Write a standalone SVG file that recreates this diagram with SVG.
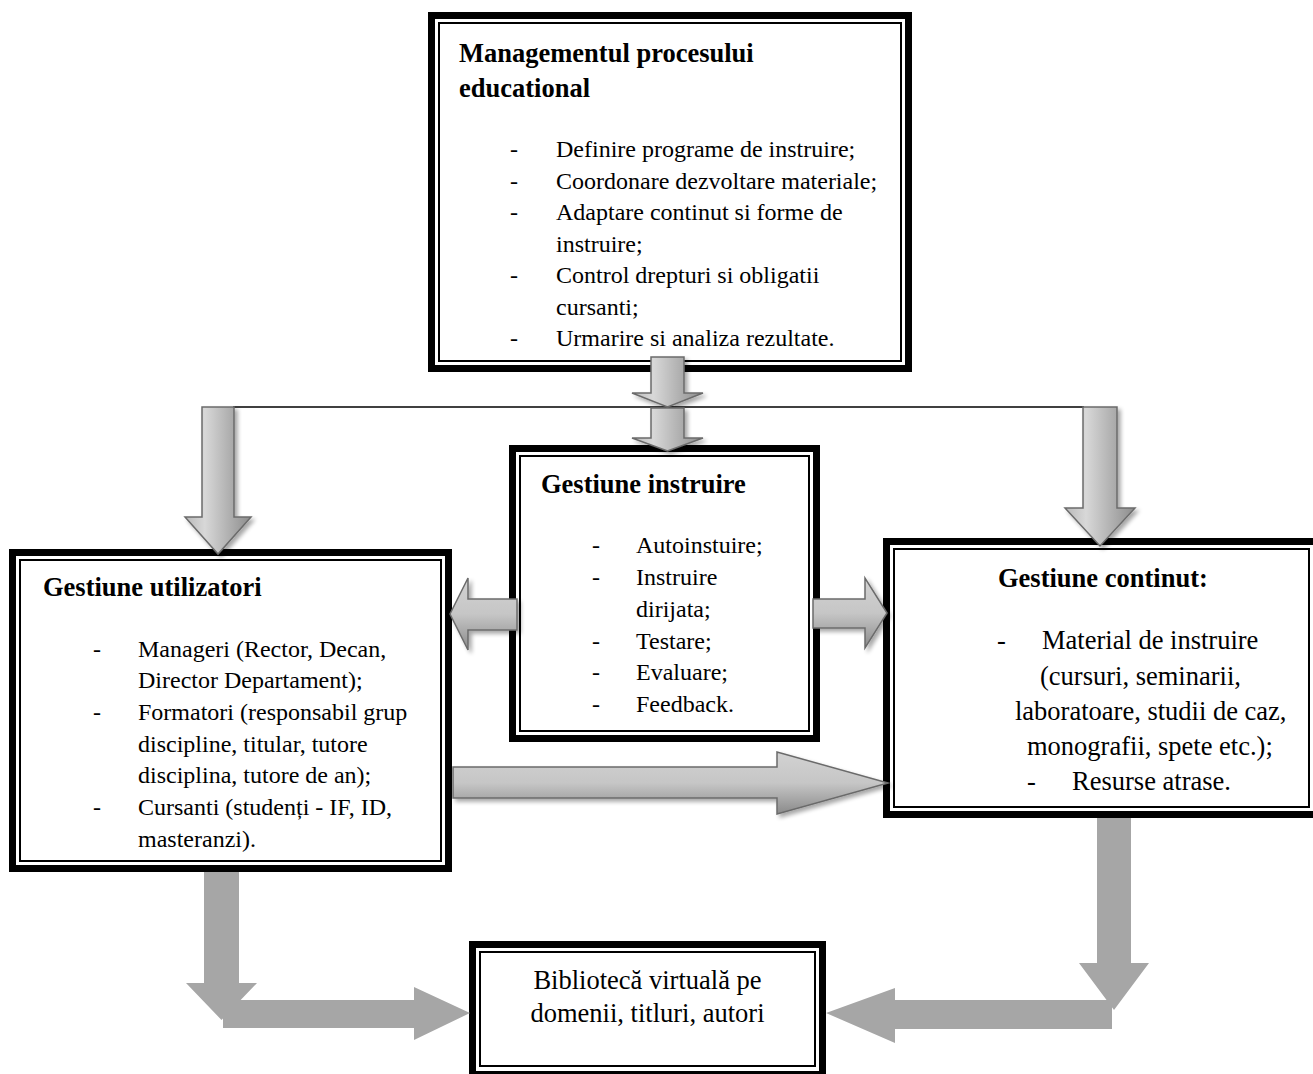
<svg xmlns="http://www.w3.org/2000/svg" width="1313" height="1074" viewBox="0 0 1313 1074">
<style>
.outer{fill:#fff;stroke:#000;stroke-width:7}
.inner{fill:none;stroke:#000;stroke-width:2}
.t{font-family:"Liberation Serif","Times New Roman",serif;font-size:24px;fill:#000}
.tl{font-family:"Liberation Serif","Times New Roman",serif;font-size:26.5px;fill:#000}
.h{font-family:"Liberation Serif","Times New Roman",serif;font-size:26.5px;font-weight:bold;fill:#000}
.a3v{fill:url(#gv);stroke:#6b6b6b;stroke-width:1.5;filter:url(#sh)}
.a3h{fill:url(#gh);stroke:#6b6b6b;stroke-width:1.5;filter:url(#sh)}
.flat{fill:#a6a6a6}
</style>
<defs>
<linearGradient id="gv" x1="0" y1="0" x2="1" y2="0">
<stop offset="0" stop-color="#b8b8b8"/>
<stop offset="0.3" stop-color="#d8d8d8"/>
<stop offset="1" stop-color="#8c8c8c"/>
</linearGradient>
<linearGradient id="gh" x1="0" y1="0" x2="0" y2="1">
<stop offset="0" stop-color="#d2d2d2"/>
<stop offset="0.5" stop-color="#c6c6c6"/>
<stop offset="1" stop-color="#8a8a8a"/>
</linearGradient>
<filter id="sh" x="-20%" y="-20%" width="150%" height="150%">
<feGaussianBlur in="SourceAlpha" stdDeviation="2"/>
<feOffset dx="3" dy="3" result="o"/>
<feComponentTransfer><feFuncA type="linear" slope="0.35"/></feComponentTransfer>
<feMerge><feMergeNode/><feMergeNode in="SourceGraphic"/></feMerge>
</filter>
</defs>

<g id="node-management">
<rect class="outer" x="431.5" y="15.5" width="477" height="353"/>
<rect class="inner" x="439" y="23" width="462" height="338"/>
<text class="h" x="459" y="62">Managementul procesului</text>
<text class="h" x="459" y="97">educational</text>
<text class="t" x="510" y="157">-</text><text class="t" x="556" y="157">Definire programe de instruire;</text>
<text class="t" x="510" y="188.5">-</text><text class="t" x="556" y="188.5">Coordonare dezvoltare materiale;</text>
<text class="t" x="510" y="220">-</text><text class="t" x="556" y="220">Adaptare continut si forme de</text>
<text class="t" x="556" y="251.5">instruire;</text>
<text class="t" x="510" y="283">-</text><text class="t" x="556" y="283">Control drepturi si obligatii</text>
<text class="t" x="556" y="314.5">cursanti;</text>
<text class="t" x="510" y="346">-</text><text class="t" x="556" y="346">Urmarire si analiza rezultate.</text>
</g>

<g id="node-instruire">
<rect class="outer" x="512.5" y="448.5" width="304" height="290"/>
<rect class="inner" x="520" y="456" width="289" height="275"/>
<text class="h" x="541" y="493">Gestiune instruire</text>
<text class="t" x="592" y="553">-</text><text class="t" x="636" y="553">Autoinstuire;</text>
<text class="t" x="592" y="585">-</text><text class="t" x="636" y="585">Instruire</text>
<text class="t" x="636" y="617">dirijata;</text>
<text class="t" x="592" y="648.5">-</text><text class="t" x="636" y="648.5">Testare;</text>
<text class="t" x="592" y="680">-</text><text class="t" x="636" y="680">Evaluare;</text>
<text class="t" x="592" y="712">-</text><text class="t" x="636" y="712">Feedback.</text>
</g>

<g id="node-utilizatori">
<rect class="outer" x="12.5" y="552.5" width="436" height="316"/>
<rect class="inner" x="20" y="560" width="421" height="301"/>
<text class="h" x="43" y="596">Gestiune utilizatori</text>
<text class="t" x="93" y="656.5">-</text><text class="t" x="138" y="656.5">Manageri (Rector, Decan,</text>
<text class="t" x="138" y="688">Director Departament);</text>
<text class="t" x="93" y="720">-</text><text class="t" x="138" y="720">Formatori (responsabil grup</text>
<text class="t" x="138" y="751.5">discipline, titular, tutore</text>
<text class="t" x="138" y="783">disciplina, tutore de an);</text>
<text class="t" x="93" y="815">-</text><text class="t" x="138" y="815">Cursanti (studenți - IF, ID,</text>
<text class="t" x="138" y="846.5">masteranzi).</text>
</g>

<g id="node-continut">
<rect class="outer" x="886.5" y="541.5" width="430" height="273"/>
<rect class="inner" x="894" y="549" width="415" height="258"/>
<text class="h" x="998" y="587">Gestiune continut:</text>
<text class="tl" x="997" y="649">-</text><text class="tl" x="1042" y="649">Material de instruire</text>
<text class="tl" x="1040" y="684.5">(cursuri, seminarii,</text>
<text class="tl" x="1015" y="720">laboratoare, studii de caz,</text>
<text class="tl" x="1027" y="755">monografii, spete etc.);</text>
<text class="tl" x="1027" y="790">-</text><text class="tl" x="1072" y="790">Resurse atrase.</text>
</g>

<g id="node-biblioteca">
<rect class="outer" x="472.5" y="944.5" width="350" height="130"/>
<rect class="inner" x="480" y="952" width="335" height="114"/>
<text class="tl" x="647.5" y="989" text-anchor="middle">Bibliotecă virtuală pe</text>
<text class="tl" x="647.5" y="1022" text-anchor="middle">domenii, titluri, autori</text>
</g>

<g id="connectors">
<line x1="233" y1="407" x2="1084" y2="407" stroke="#000" stroke-width="1.5"/>
<path class="a3v" d="M651,357 H684 V393 H703 L667.5,407 L632,393 H651 Z"/>
<path class="a3v" d="M651,408 H684 V438 H703 L667.5,451 L632,438 H651 Z"/>
<path class="a3v" d="M202,407 H234 V517 H251 L218,554 L185,517 H202 Z"/>
<path class="a3v" d="M1083,407 H1117 V508 H1135 L1100,546 L1065,508 H1083 Z"/>
<path class="a3h" d="M517,599 V630 H468 V650 L450,614 L468,578 V599 Z"/>
<path class="a3h" d="M813,599 H865 V578 L887,613 L865,648 V628 H813 Z"/>
<path class="a3h" d="M453,767 H777 V752 L888,783 L777,814 V798 H453 Z"/>
<path class="flat" d="M204,872 H239 V983 H257 L221.5,1020 L186,983 H204 Z"/>
<path class="flat" d="M223,1000 H414 V987 L470,1013 L414,1040 V1028 H223 Z"/>
<path class="flat" d="M1097,818 H1131 V963 H1149 L1114,1010 L1079,963 H1097 Z"/>
<path class="flat" d="M1112,1000 H895 V988 L826,1013 L895,1043 V1029 H1112 Z"/>
</g>
</svg>
